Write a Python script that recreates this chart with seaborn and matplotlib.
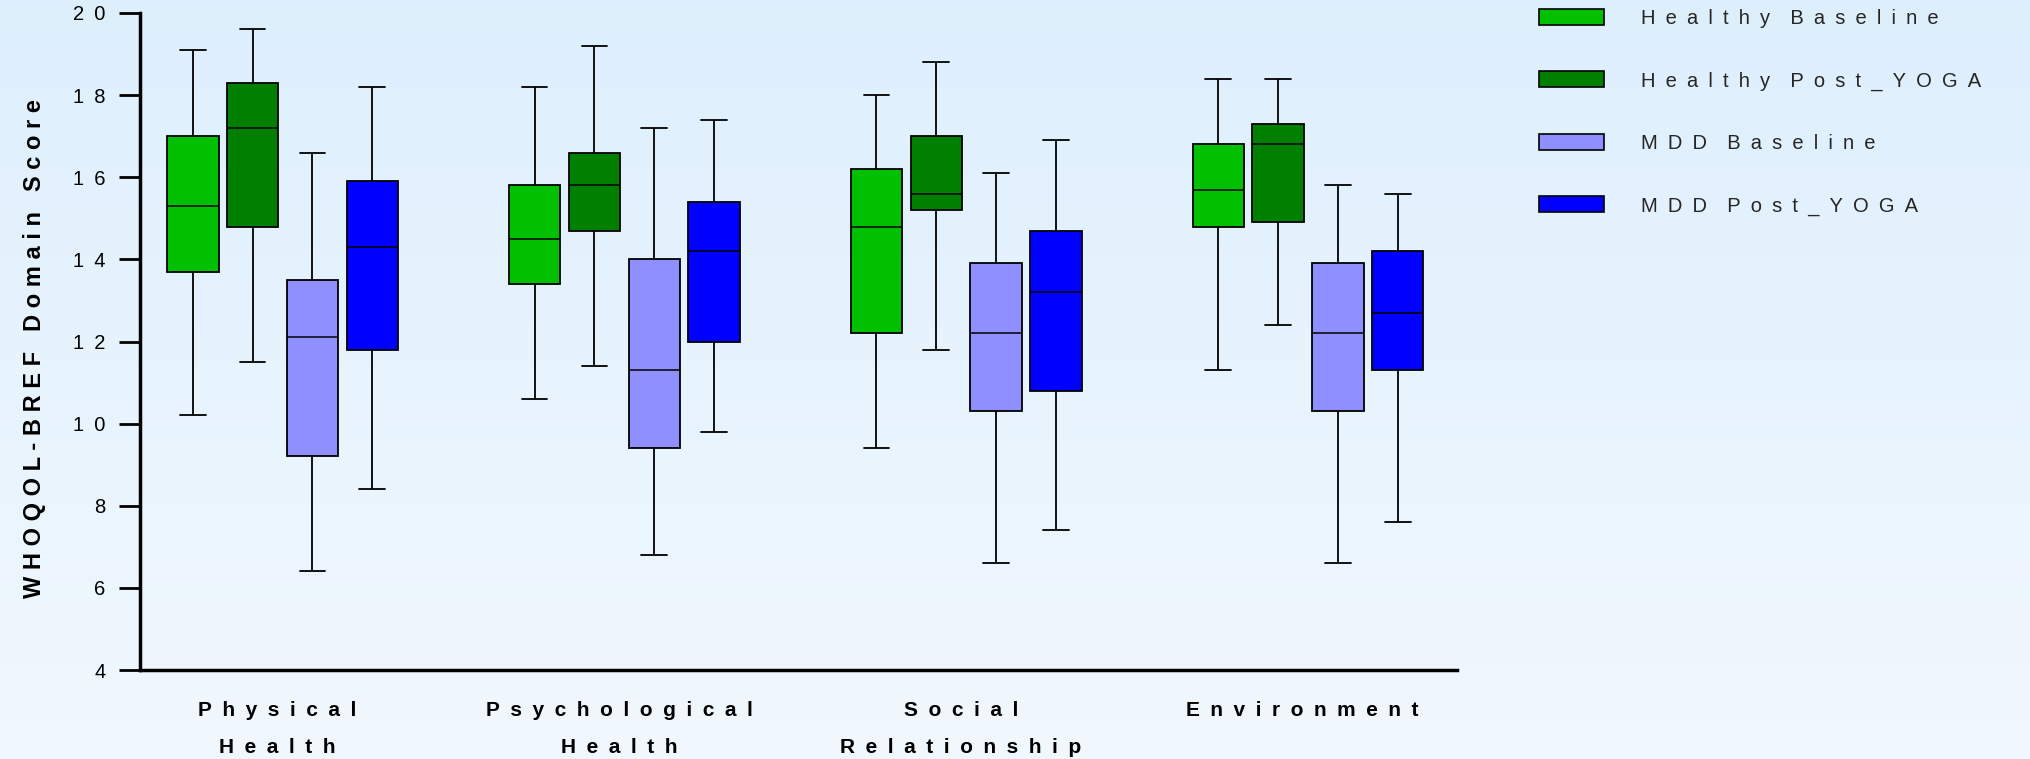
import numpy as np
import pandas as pd
import matplotlib
matplotlib.use("Agg")
import matplotlib.pyplot as plt
from matplotlib.patches import Patch
import seaborn as sns

# Domains on the x axis
domains = ["Physical\nHealth", "Psychological\nHealth", "Social\nRelationship", "Environment"]
groups = ["Healthy Baseline", "Healthy Post_YOGA", "MDD Baseline", "MDD Post_YOGA"]

# Five-number summaries per domain: [min, Q1, median, Q3, max]
healthy_baseline = [
    [10.2, 13.7, 15.3, 17.0, 19.1],
    [10.6, 13.4, 14.5, 15.8, 18.2],
    [9.4, 12.2, 14.8, 16.2, 18.0],
    [11.3, 14.8, 15.7, 16.8, 18.4],
]
healthy_post_yoga = [
    [11.5, 14.8, 17.2, 18.3, 19.6],
    [11.4, 14.7, 15.8, 16.6, 19.2],
    [11.8, 15.2, 15.6, 17.0, 18.8],
    [12.4, 14.9, 16.8, 17.3, 18.4],
]
mdd_baseline = [
    [6.4, 9.2, 12.1, 13.5, 16.6],
    [6.8, 9.4, 11.3, 14.0, 17.2],
    [6.6, 10.3, 12.2, 13.9, 16.1],
    [6.6, 10.3, 12.2, 13.9, 15.8],
]
mdd_post_yoga = [
    [8.4, 11.8, 14.3, 15.9, 18.2],
    [9.8, 12.0, 14.2, 15.4, 17.4],
    [7.4, 10.8, 13.2, 14.7, 16.9],
    [7.6, 11.3, 12.7, 14.2, 15.6],
]

y_ticks = [4, 6, 8, 10, 12, 14, 16, 18, 20]
colors = ["#00c000", "#008000", "#8f8fff", "#0000ff"]

EN = "\u2002"


def spaced(text, gap=EN, word_gap=2, trail=""):
    """Letter-spaced version of a label (words separated by a wider gap)."""
    lines = []
    for line in text.split("\n"):
        words = [gap.join(w) for w in line.split(" ")]
        lines.append((gap * word_gap).join(words) + trail)
    return "\n".join(lines)


rows = []
for grp, summaries in zip(groups, [healthy_baseline, healthy_post_yoga, mdd_baseline, mdd_post_yoga]):
    for dom, vals in zip(domains, summaries):
        for v in vals:
            rows.append({"domain": dom, "group": grp, "score": v})
df = pd.DataFrame(rows)

sns.set_theme(style="white")
plt.rcParams["font.family"] = ["Liberation Sans", "DejaVu Sans"]

W, H = 2031, 759
fig = plt.figure(figsize=(W / 100, H / 100), dpi=100)

# soft light-blue backdrop
bg = fig.add_axes([0, 0, 1, 1], zorder=-10)
grad = np.linspace(0, 1, 256)[:, None]
top = np.array([0.870, 0.937, 0.992])
bottom = np.array([0.945, 0.973, 0.996])
img = top[None, None, :] * (1 - grad[..., None]) + bottom[None, None, :] * grad[..., None]
bg.imshow(img, aspect="auto", extent=[0, 1, 0, 1], interpolation="bicubic")
bg.set_axis_off()

left, right, top_px, bot_px = 140, 1457, 13, 670
ax = fig.add_axes([left / W, 1 - bot_px / H, (right - left) / W, (bot_px - top_px) / H])
ax.set_facecolor("none")

sns.boxplot(
    data=df, x="domain", y="score", hue="group",
    order=domains, hue_order=groups,
    palette=dict(zip(groups, colors)), saturation=1,
    whis=(0, 100), width=0.7, gap=0.14,
    linecolor="black", linewidth=1.3,
    medianprops={"linewidth": 1.1},
    legend=False, ax=ax,
)

ax.set_xlim(-0.417, 3.436)
ax.set_ylim(4, 20)
ax.set_yticks(y_ticks)
ax.set_yticklabels([spaced(str(t)) for t in y_ticks], fontsize=14.5, color="black")
ax.set_xticks(range(len(domains)))
ax.set_xticklabels([spaced(d, trail=EN) for d in domains], fontsize=15, fontweight="bold",
                   color="black", linespacing=2.2)
ax.tick_params(axis="y", direction="out", length=15, width=2, color="black", pad=10, left=True)
ax.tick_params(axis="x", length=0, pad=22)
ax.set_xlabel("")
ax.set_ylabel(spaced("WHOQOL-BREF Domain Score", gap=" ", word_gap=3), fontsize=17,
              fontweight="bold", color="black")
ax.yaxis.set_label_coords(-0.0715, 0.489)

for side in ["top", "right"]:
    ax.spines[side].set_visible(False)
for side in ["left", "bottom"]:
    ax.spines[side].set_visible(True)
    ax.spines[side].set_color("black")
    ax.spines[side].set_linewidth(2.5)

handles = [Patch(facecolor=c, edgecolor="black", linewidth=1.2) for c in colors]
fig.legend(
    handles, [spaced(g) for g in groups],
    loc="upper left", bbox_to_anchor=(1521 / W, 1 + 9 / H),
    frameon=False, fontsize=14.5,
    handlelength=3.2, handleheight=0.85, handletextpad=1.85,
    labelspacing=2.15,
)

fig.savefig("out.png", dpi=100)
